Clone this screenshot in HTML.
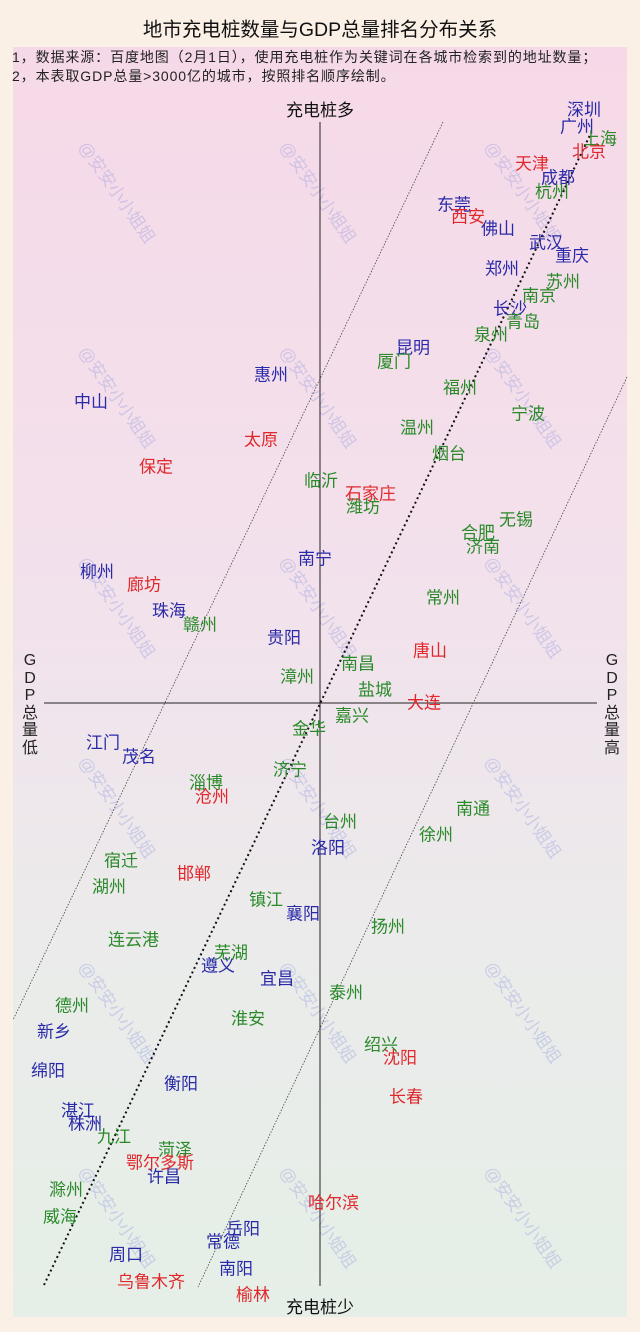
<!DOCTYPE html>
<html><head><meta charset="utf-8"><style>
*{margin:0;padding:0}
body{width:640px;height:1332px;background:#faf0e6;position:relative;overflow:hidden;font-family:"Liberation Sans","Noto Sans CJK SC",sans-serif}
#plot{position:absolute;left:13px;top:47px;width:614px;height:1270px;background:linear-gradient(#f6d9e8 0%,#f2e2ec 45%,#ebebeb 70%,#e5efe7 100%)}
.t{position:absolute;font-size:17px;line-height:17px;white-space:nowrap;transform:translateY(-50%)}
.B{color:#2a2aa8}.R{color:#e0282c}.G{color:#2a8a2a}
.wm{position:absolute;font-size:17px;color:rgba(140,150,220,0.35);transform:rotate(55deg);transform-origin:left center;white-space:nowrap}
.vl{position:absolute;font-size:16px;line-height:17.5px;width:16px;text-align:center;color:#222}
</style></head><body>
<div id="plot"></div>
<div style="position:absolute;top:13px;left:0;width:640px;text-align:center;font-size:19.5px;color:#111">地市充电桩数量与GDP总量排名分布关系</div>
<div style="position:absolute;left:12px;top:48px;font-size:14px;line-height:19px;letter-spacing:0.9px;color:#222">1，数据来源：百度地图（2月1日），使用充电桩作为关键词在各城市检索到的地址数量；<br>2，本表取GDP总量&gt;3000亿的城市，按照排名顺序绘制。</div>
<div class="wm" style="left:84px;top:130px">@安安小小姐姐</div>
<div class="wm" style="left:285px;top:130px">@安安小小姐姐</div>
<div class="wm" style="left:490px;top:130px">@安安小小姐姐</div>
<div class="wm" style="left:84px;top:335px">@安安小小姐姐</div>
<div class="wm" style="left:285px;top:335px">@安安小小姐姐</div>
<div class="wm" style="left:490px;top:335px">@安安小小姐姐</div>
<div class="wm" style="left:84px;top:545px">@安安小小姐姐</div>
<div class="wm" style="left:285px;top:545px">@安安小小姐姐</div>
<div class="wm" style="left:490px;top:545px">@安安小小姐姐</div>
<div class="wm" style="left:84px;top:745px">@安安小小姐姐</div>
<div class="wm" style="left:285px;top:745px">@安安小小姐姐</div>
<div class="wm" style="left:490px;top:745px">@安安小小姐姐</div>
<div class="wm" style="left:84px;top:950px">@安安小小姐姐</div>
<div class="wm" style="left:285px;top:950px">@安安小小姐姐</div>
<div class="wm" style="left:490px;top:950px">@安安小小姐姐</div>
<div class="wm" style="left:84px;top:1155px">@安安小小姐姐</div>
<div class="wm" style="left:285px;top:1155px">@安安小小姐姐</div>
<div class="wm" style="left:490px;top:1155px">@安安小小姐姐</div>
<svg width="640" height="1332" style="position:absolute;left:0;top:0">
<line x1="320" y1="122" x2="320" y2="1286" stroke="#222" stroke-width="1"/>
<line x1="44" y1="703" x2="597" y2="703" stroke="#222" stroke-width="1"/>
<line x1="44" y1="1285" x2="590" y2="135" stroke="#111" stroke-width="2" stroke-dasharray="2,3"/>
<line x1="443" y1="122" x2="13" y2="1020" stroke="#444" stroke-width="0.8" stroke-dasharray="1.5,1.5"/>
<line x1="627" y1="377" x2="198" y2="1287" stroke="#444" stroke-width="0.8" stroke-dasharray="1.5,1.5"/>
</svg>
<div style="position:absolute;left:286px;top:96px;font-size:17px;color:#111">充电桩多</div>
<div style="position:absolute;left:286px;top:1293px;font-size:17px;color:#111">充电桩少</div>
<div class="vl" style="left:22px;top:652px">G<br>D<br>P<br>总<br>量<br>低</div>
<div class="vl" style="left:604px;top:652px">G<br>D<br>P<br>总<br>量<br>高</div>
<div class="t B" style="left:567px;top:110px">深圳</div>
<div class="t B" style="left:560px;top:127px">广州</div>
<div class="t G" style="left:583px;top:139px">上海</div>
<div class="t R" style="left:572px;top:152px">北京</div>
<div class="t R" style="left:515px;top:164px">天津</div>
<div class="t B" style="left:541px;top:178px">成都</div>
<div class="t G" style="left:535px;top:192px">杭州</div>
<div class="t B" style="left:437px;top:205px">东莞</div>
<div class="t R" style="left:451px;top:217px">西安</div>
<div class="t B" style="left:481px;top:229px">佛山</div>
<div class="t B" style="left:529px;top:243px">武汉</div>
<div class="t B" style="left:555px;top:256px">重庆</div>
<div class="t B" style="left:485px;top:269px">郑州</div>
<div class="t G" style="left:546px;top:282px">苏州</div>
<div class="t G" style="left:522px;top:296px">南京</div>
<div class="t B" style="left:493px;top:309px">长沙</div>
<div class="t G" style="left:506px;top:322px">青岛</div>
<div class="t G" style="left:474px;top:335px">泉州</div>
<div class="t B" style="left:396px;top:348px">昆明</div>
<div class="t G" style="left:377px;top:362px">厦门</div>
<div class="t B" style="left:254px;top:375px">惠州</div>
<div class="t G" style="left:443px;top:388px">福州</div>
<div class="t B" style="left:74px;top:402px">中山</div>
<div class="t G" style="left:511px;top:414px">宁波</div>
<div class="t G" style="left:400px;top:428px">温州</div>
<div class="t R" style="left:244px;top:440px">太原</div>
<div class="t G" style="left:432px;top:454px">烟台</div>
<div class="t R" style="left:139px;top:467px">保定</div>
<div class="t G" style="left:304px;top:481px">临沂</div>
<div class="t R" style="left:345px;top:494px">石家庄</div>
<div class="t G" style="left:346px;top:507px">潍坊</div>
<div class="t G" style="left:499px;top:520px">无锡</div>
<div class="t G" style="left:461px;top:533px">合肥</div>
<div class="t G" style="left:466px;top:547px">济南</div>
<div class="t B" style="left:298px;top:559px">南宁</div>
<div class="t B" style="left:80px;top:572px">柳州</div>
<div class="t R" style="left:127px;top:585px">廊坊</div>
<div class="t G" style="left:426px;top:598px">常州</div>
<div class="t B" style="left:152px;top:611px">珠海</div>
<div class="t G" style="left:183px;top:625px">赣州</div>
<div class="t B" style="left:267px;top:638px">贵阳</div>
<div class="t R" style="left:413px;top:651px">唐山</div>
<div class="t G" style="left:341px;top:664px">南昌</div>
<div class="t G" style="left:280px;top:677px">漳州</div>
<div class="t G" style="left:358px;top:690px">盐城</div>
<div class="t R" style="left:407px;top:703px">大连</div>
<div class="t G" style="left:335px;top:716px">嘉兴</div>
<div class="t G" style="left:292px;top:729px">金华</div>
<div class="t B" style="left:86px;top:743px">江门</div>
<div class="t B" style="left:122px;top:757px">茂名</div>
<div class="t G" style="left:273px;top:770px">济宁</div>
<div class="t G" style="left:189px;top:783px">淄博</div>
<div class="t R" style="left:195px;top:797px">沧州</div>
<div class="t G" style="left:456px;top:809px">南通</div>
<div class="t G" style="left:323px;top:822px">台州</div>
<div class="t G" style="left:419px;top:835px">徐州</div>
<div class="t B" style="left:311px;top:848px">洛阳</div>
<div class="t G" style="left:104px;top:861px">宿迁</div>
<div class="t R" style="left:177px;top:874px">邯郸</div>
<div class="t G" style="left:92px;top:887px">湖州</div>
<div class="t G" style="left:249px;top:900px">镇江</div>
<div class="t B" style="left:286px;top:914px">襄阳</div>
<div class="t G" style="left:371px;top:927px">扬州</div>
<div class="t G" style="left:108px;top:940px">连云港</div>
<div class="t G" style="left:214px;top:953px">芜湖</div>
<div class="t B" style="left:201px;top:966px">遵义</div>
<div class="t B" style="left:260px;top:979px">宜昌</div>
<div class="t G" style="left:329px;top:993px">泰州</div>
<div class="t G" style="left:55px;top:1006px">德州</div>
<div class="t G" style="left:231px;top:1019px">淮安</div>
<div class="t B" style="left:37px;top:1032px">新乡</div>
<div class="t G" style="left:364px;top:1045px">绍兴</div>
<div class="t R" style="left:383px;top:1058px">沈阳</div>
<div class="t B" style="left:31px;top:1071px">绵阳</div>
<div class="t B" style="left:164px;top:1084px">衡阳</div>
<div class="t R" style="left:389px;top:1097px">长春</div>
<div class="t B" style="left:61px;top:1111px">湛江</div>
<div class="t B" style="left:68px;top:1124px">株洲</div>
<div class="t G" style="left:97px;top:1137px">九江</div>
<div class="t G" style="left:158px;top:1150px">菏泽</div>
<div class="t R" style="left:126px;top:1163px">鄂尔多斯</div>
<div class="t B" style="left:147px;top:1177px">许昌</div>
<div class="t G" style="left:49px;top:1190px">滁州</div>
<div class="t R" style="left:308px;top:1203px">哈尔滨</div>
<div class="t G" style="left:43px;top:1217px">威海</div>
<div class="t B" style="left:226px;top:1229px">岳阳</div>
<div class="t B" style="left:206px;top:1242px">常德</div>
<div class="t B" style="left:109px;top:1255px">周口</div>
<div class="t B" style="left:219px;top:1269px">南阳</div>
<div class="t R" style="left:117px;top:1282px">乌鲁木齐</div>
<div class="t R" style="left:236px;top:1295px">榆林</div>
</body></html>
